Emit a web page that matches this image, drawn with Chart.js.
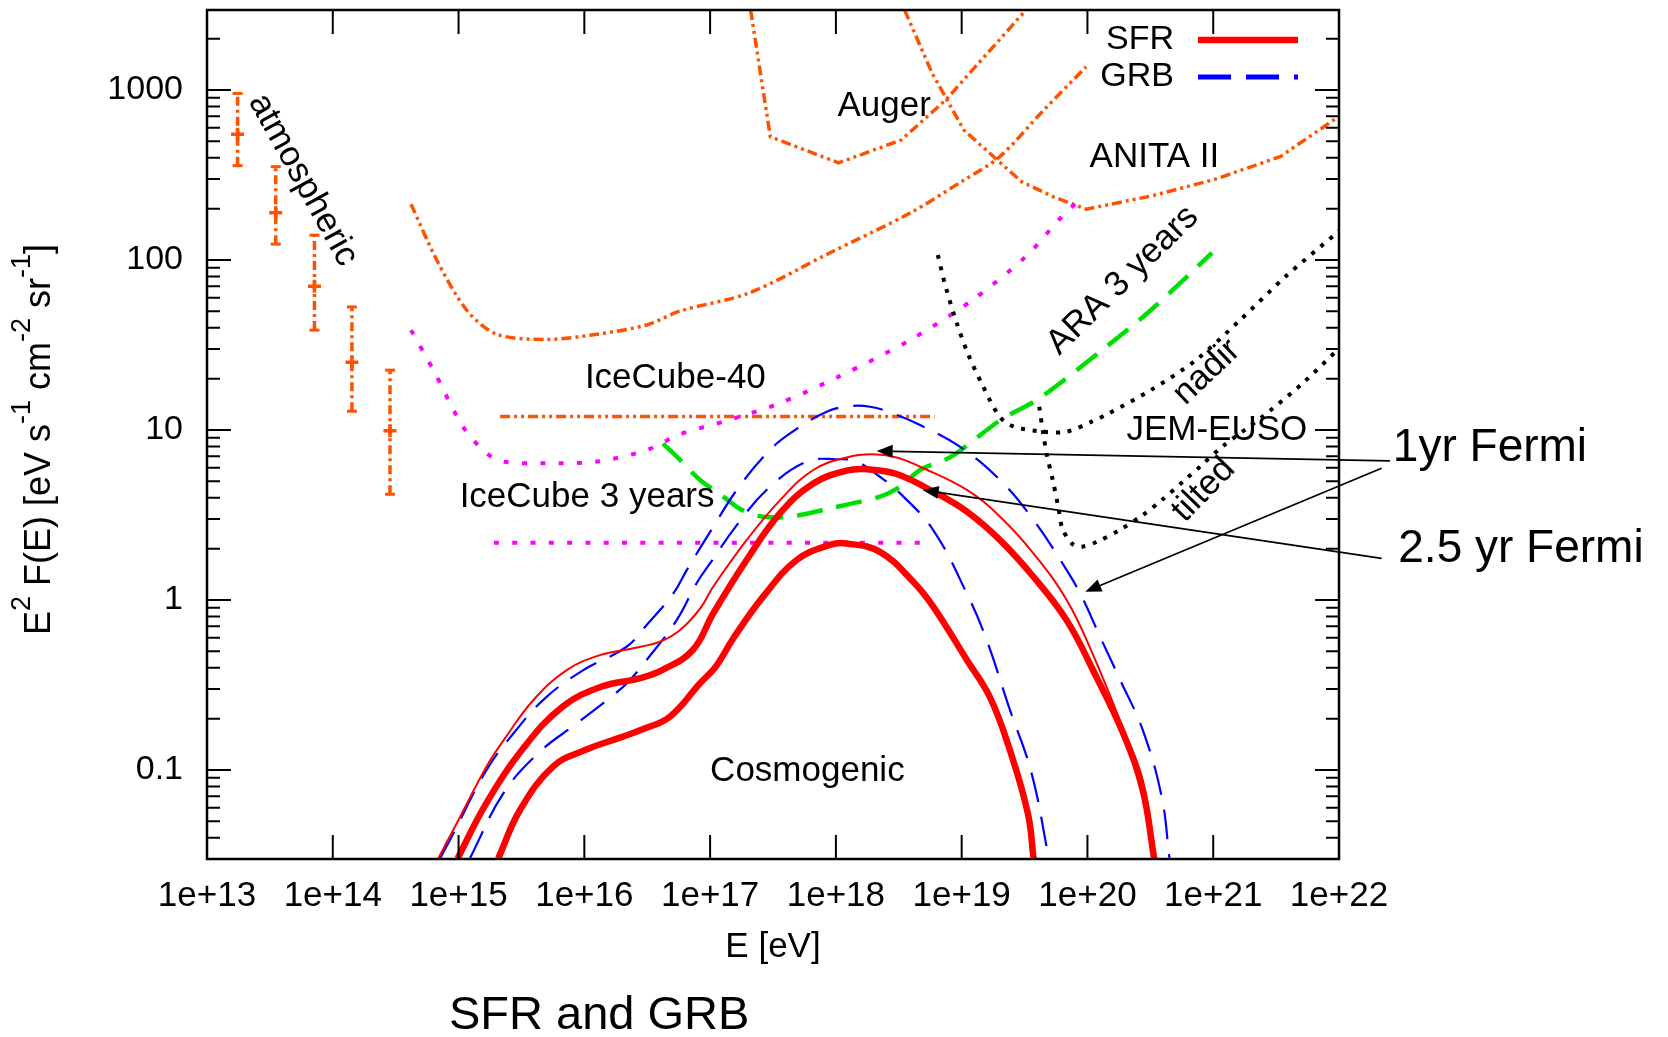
<!DOCTYPE html>
<html>
<head>
<meta charset="utf-8">
<title>SFR and GRB</title>
<script src="https://cdn.jsdelivr.net/npm/chart.js@4.4.1/dist/chart.umd.min.js"></script>
<style>
  body { margin: 0; background: #fff; }
  canvas { display: block; }
</style>
</head>
<body>
<canvas id="myChart" width="1668" height="1037"></canvas>
<script>
// E in eV, flux as E^2 F(E) in eV s^-1 cm^-2 sr^-1

// cosmogenic fluxes, SFR evolution (thin = 1yr Fermi, mid = 2.5 yr Fermi, low = lower bound)
const sfrThinE = [6.9e14, 1.03e15, 1.67e15, 2.36e15, 3.94e15, 7.24e15, 1.33e16, 2.45e16, 4.0e16, 5.77e16, 8.32e16, 1.06e17, 1.95e17, 3.6e17, 6.61e17, 1.22e18, 1.93e18, 3.04e18, 4.67e18, 1.1e19, 2.02e19, 3.72e19, 6.84e19, 1.12e20, 1.94e20, 2.75e20, 3.5e20];
const sfrThinF = [0.0302, 0.0531, 0.105, 0.155, 0.258, 0.387, 0.474, 0.52, 0.569, 0.667, 0.891, 1.2, 2.25, 3.87, 5.82, 6.9, 7.19, 6.9, 6.08, 4.44, 3.09, 1.88, 1.0, 0.468, 0.172, 0.0873, 0.0302];

const sfrMidE = [9.82e14, 1.66e15, 3.34e15, 6.73e15, 1.36e16, 2.73e16, 4.16e16, 7.29e16, 1.06e17, 1.95e17, 3.6e17, 6.61e17, 1.22e18, 1.76e18, 3.04e18, 5.94e18, 1.1e19, 2.02e19, 3.72e19, 6.84e19, 1.12e20, 1.94e20, 2.75e20, 3.39e20];
const sfrMidF = [0.0302, 0.0637, 0.137, 0.236, 0.309, 0.346, 0.387, 0.508, 0.836, 1.72, 3.24, 4.85, 5.77, 5.88, 5.51, 4.34, 3.31, 2.25, 1.37, 0.759, 0.38, 0.162, 0.0762, 0.0302];

const sfrLowE = [2.07e15, 3.08e15, 5.66e15, 1.04e16, 1.92e16, 2.94e16, 4.79e16, 8.32e16, 1.11e17, 1.53e17, 2.65e17, 4.88e17, 8.97e17, 1.22e18, 2.24e18, 4.12e18, 5.94e18, 1.1e19, 1.67e19, 2.37e19, 3.36e19, 3.73e19];
const sfrLowF = [0.0302, 0.0582, 0.105, 0.132, 0.155, 0.174, 0.206, 0.324, 0.406, 0.596, 1.05, 1.72, 2.11, 2.15, 1.92, 1.28, 0.914, 0.444, 0.27, 0.137, 0.0556, 0.0302];

// GRB evolution
const grbHighE = [7.13e14, 9.1e14, 1.67e15, 2.73e15, 4.86e15, 9.82e15, 2.17e16, 3.13e16, 5.09e16, 6.52e16, 1.06e17, 1.63e17, 2.82e17, 4.32e17, 8.45e17, 1.29e18, 1.87e18, 2.86e18, 4.67e18, 9.68e18, 2.02e19, 3.72e19, 6.84e19, 8.99e19, 1.26e20, 1.82e20, 2.75e20, 3.89e20, 4.49e20];
const grbHighF = [0.0302, 0.0424, 0.1, 0.164, 0.264, 0.387, 0.531, 0.713, 1.09, 1.5, 2.7, 4.44, 7.3, 9.55, 12.8, 13.8, 13.7, 12.5, 10.7, 7.98, 5.08, 2.96, 1.5, 1.05, 0.608, 0.339, 0.172, 0.0697, 0.0302];

const grbLowE = [1.23e15, 2.27e15, 4.32e15, 8.71e15, 1.7e16, 2.24e16, 3.13e16, 5.42e16, 7.83e16, 9.98e16, 1.63e17, 2.9e17, 5.86e17, 1.01e18, 1.46e18, 2.24e18, 3.24e18, 5.94e18, 1.1e19, 1.58e19, 2.37e19, 3.6e19, 4.93e19];
const grbLowF = [0.0302, 0.0729, 0.126, 0.188, 0.276, 0.331, 0.444, 0.762, 1.26, 1.64, 2.76, 4.54, 6.52, 6.73, 6.52, 5.31, 4.24, 2.58, 1.09, 0.582, 0.236, 0.0955, 0.0302];

// detector sensitivities
const araE = [4.22e16, 5.77e16, 8.32e16, 1.27e17, 1.78e17, 2.65e17, 4.32e17, 8.97e17, 2.24e18, 3.24e18, 4.67e18, 8.26e18, 2.05e19, 4.17e19, 1.41e20, 3.2e20, 9.77e20];
const araF = [8.32, 6.67, 5.08, 4.06, 3.39, 3.09, 3.09, 3.46, 4.06, 4.65, 5.82, 6.97, 11.5, 15.4, 30.9, 50.8, 110];

const ic3yE = [4.19e14, 6.31e14, 1.09e15, 1.67e15, 2.27e15, 5.01e15, 1.26e16, 3.13e16, 5.77e16, 1.44e17, 3.6e17, 1.05e18, 3.88e18, 1.22e19, 3.24e19, 6.25e19, 8.32e19];
const ic3yF = [38.7, 22.5, 10.4, 7.3, 6.52, 6.37, 6.52, 7.62, 9.44, 11.5, 14.4, 20.6, 33.8, 58.2, 105, 180, 220];
const ic3yFlatE = [1.91e15, 5.82e18];
const ic3yFlatF = [2.17, 2.17];

const ic40E = [2.14e15, 6.1e18];
const ic40F = [12.0, 12.0];

const upperE = [4.19e14, 6.71e14, 1.16e15, 2.01e15, 5.01e15, 1.26e16, 3.13e16, 5.77e16, 2.04e17, 8.91e17, 3.89e18, 1.04e19, 2.0e19, 4.47e19, 9.77e19];
const upperF = [213, 100, 50.8, 36.6, 34.1, 36.6, 41.5, 50.1, 64.0, 110, 189, 295, 404, 759, 1371];

const augerE = [2.1e17, 3.01e17, 1.05e18, 3.3e18, 7.46e18, 3.24e19];
const augerF = [2951, 531, 373, 508, 873, 2951];

const anitaE = [3.52e18, 5.83e18, 1.04e19, 2.99e19, 5.31e19, 9.77e19, 3.2e20, 1.0e21, 3.42e21, 1.0e22];
const anitaF = [2951, 1253, 582, 289, 236, 199, 238, 296, 406, 700];

const jemNadirE = [6.46e18, 7.46e18, 9.16e18, 1.12e19, 1.44e19, 2.0e19, 2.57e19, 4.46e19, 6.84e19, 1.08e20, 1.41e20, 3.2e20, 7.24e20, 1.64e21, 3.72e21, 1.0e22];
const jemNadirF = [107, 69.7, 42.4, 28.2, 18.8, 12.0, 10.5, 9.77, 9.77, 11.2, 12.3, 17.2, 25.7, 44.4, 79.4, 148];

const jemTiltE = [4.14e19, 4.45e19, 4.76e19, 5.3e19, 5.89e19, 6.31e19, 7.52e19, 8.95e19, 1.19e20, 1.8e20, 2.75e20, 3.9e20, 5.94e20, 7.83e20, 1.18e21, 2.47e21, 5.13e21, 1.0e22];
const jemTiltF = [13.7, 9.55, 7.13, 5.08, 3.46, 2.64, 2.15, 2.06, 2.2, 2.58, 3.16, 3.87, 5.08, 6.08, 7.98, 12.0, 18.8, 30.2];

// atmospheric neutrino points with error bars
const atmE = [1.75e13, 3.52e13, 7.15e13, 1.42e14, 2.85e14];
const atmF = [550, 190, 70, 25, 9.9];
const atmLo = [359, 124, 38.7, 12.9, 4.19];
const atmHi = [955, 354, 140, 53, 22.5];

// axis ticks
const energyTicks = [1e13, 1e14, 1e15, 1e16, 1e17, 1e18, 1e19, 1e20, 1e21, 1e22];
const fluxTicks = [0.1, 1, 10, 100, 1000];

const FONT = '"Liberation Sans", Arial, Helvetica, sans-serif';
const RED = '#ff0000';
const BLUE = '#0000ff';
const ORANGE = '#ff5200';
const MAGENTA = '#ff00ff';
const GREEN = '#00e000';
const DASH_DOT_DOT = [10, 4, 3, 4, 3, 4];

// labels sit at (E, flux) positions so they follow the axes
const plotLabels = [
  { text: 'atmospheric', e: 5.8e13, f: 296, rot: 61, align: 'center' },
  { text: 'IceCube-40', e: 1.01e16, f: 20, rot: 0, align: 'left' },
  { text: 'IceCube 3 years', e: 1.02e15, f: 4.0, rot: 0, align: 'left' },
  { text: 'Auger', e: 1.03e18, f: 797, rot: 0, align: 'left' },
  { text: 'ANITA II', e: 1.04e20, f: 401, rot: 0, align: 'left' },
  { text: 'ARA 3 years', e: 1.91e20, f: 76, rot: -44.4, align: 'center' },
  { text: 'nadir', e: 8.9e20, f: 21.9, rot: -43.4, align: 'center' },
  { text: 'JEM-EUSO', e: 2.04e20, f: 10, rot: 0, align: 'left' },
  { text: 'tilted', e: 8.4e20, f: 4.44, rot: -45.6, align: 'center' },
  { text: 'Cosmogenic', e: 1.0e17, f: 0.098, rot: 0, align: 'left' },
  { text: '1yr Fermi', e: 2.68e22, f: 7.8, rot: 0, align: 'left', size: 46 },
  { text: '2.5 yr Fermi', e: 2.96e22, f: 2.0, rot: 0, align: 'left', size: 46 }
];

const fermiArrows = [
  { from: [2.54e22, 6.58], to: [2.11e18, 7.52] },
  { from: [2.18e22, 5.96], to: [9.62e19, 1.12] },
  { from: [2.18e22, 1.76], to: [4.89e18, 4.44] }
];

const yTitle = [['E', 0], ['2', 1], [' F(E) [eV s', 0], ['-1', 1], [' cm', 0], ['-2', 1], [' sr', 0], ['-1', 1], [']', 0]];

const pts = (xs, ys) => xs.map((e, i) => ({ x: e, y: ys[i] }));

// each error bar is its own segment, split by a null point
const atmBars = [];
atmE.forEach((e, i) => {
  atmBars.push({ x: e, y: atmLo[i] }, { x: e, y: atmHi[i] }, { x: e, y: null });
});

const line = (data, color, width, dash, tension) => ({
  data: data,
  borderColor: color,
  borderWidth: width,
  borderDash: dash,
  pointRadius: 0,
  fill: false,
  clip: 0,
  tension: tension
});

const notes = {
  id: 'notes',
  afterDatasetsDraw(chart) {
    const { ctx, chartArea: a, scales: { x, y } } = chart;
    const px = v => x.getPixelForValue(v);
    const py = v => y.getPixelForValue(v);
    ctx.save();

    // frame
    ctx.strokeStyle = '#000';
    ctx.lineWidth = 2.5;
    ctx.strokeRect(a.left, a.top, a.right - a.left, a.bottom - a.top);

    // tick marks point inward on all four sides
    ctx.lineWidth = 2;
    ctx.beginPath();
    energyTicks.forEach(v => {
      const xp = px(v);
      ctx.moveTo(xp, a.bottom); ctx.lineTo(xp, a.bottom - 24);
      ctx.moveTo(xp, a.top); ctx.lineTo(xp, a.top + 24);
    });
    for (let d = -2; d <= 3; d++) {
      for (let m = 1; m <= 9; m++) {
        const v = m * Math.pow(10, d);
        if (v < y.min || v > y.max) continue;
        const yp = py(v);
        const len = m === 1 ? 24 : 13;
        ctx.moveTo(a.left, yp); ctx.lineTo(a.left + len, yp);
        ctx.moveTo(a.right, yp); ctx.lineTo(a.right - len, yp);
      }
    }
    ctx.stroke();

    // text labels
    ctx.fillStyle = '#000';
    plotLabels.forEach(l => {
      ctx.save();
      ctx.font = (l.size || 35) + 'px ' + FONT;
      ctx.translate(px(l.e), py(l.f));
      ctx.rotate(l.rot * Math.PI / 180);
      ctx.textAlign = l.align;
      ctx.textBaseline = 'middle';
      ctx.fillText(l.text, 0, 0);
      ctx.restore();
    });

    // arrows to the Fermi curves
    ctx.lineWidth = 1.8;
    fermiArrows.forEach(ar => {
      const x0 = px(ar.from[0]), y0 = py(ar.from[1]);
      const x1 = px(ar.to[0]), y1 = py(ar.to[1]);
      const ang = Math.atan2(y1 - y0, x1 - x0);
      const hl = 16, hw = 6.5;
      const bx = x1 - hl * Math.cos(ang), by = y1 - hl * Math.sin(ang);
      ctx.beginPath(); ctx.moveTo(x0, y0); ctx.lineTo(bx, by); ctx.stroke();
      ctx.beginPath();
      ctx.moveTo(x1, y1);
      ctx.lineTo(bx + hw * Math.sin(ang), by - hw * Math.cos(ang));
      ctx.lineTo(bx - hw * Math.sin(ang), by + hw * Math.cos(ang));
      ctx.closePath();
      ctx.fill();
    });

    // key, gnuplot style: text then sample line
    ctx.font = '34px ' + FONT;
    ctx.textAlign = 'right';
    ctx.textBaseline = 'middle';
    const kx0 = a.right - 141, kx1 = a.right - 41;
    ctx.fillText('SFR', a.right - 165, a.top + 30);
    ctx.fillText('GRB', a.right - 165, a.top + 67);
    ctx.lineWidth = 6.5;
    ctx.strokeStyle = RED;
    ctx.beginPath(); ctx.moveTo(kx0, a.top + 30); ctx.lineTo(kx1, a.top + 30); ctx.stroke();
    ctx.lineWidth = 5;
    ctx.strokeStyle = BLUE;
    ctx.setLineDash([33, 15]);
    ctx.beginPath(); ctx.moveTo(kx0, a.top + 67); ctx.lineTo(kx1, a.top + 67); ctx.stroke();
    ctx.setLineDash([]);

    // y axis title with superscripts
    ctx.save();
    ctx.translate(40, (a.top + a.bottom) / 2 + 5);
    ctx.rotate(-Math.PI / 2);
    const mainF = '36px ' + FONT, supF = '27px ' + FONT;
    let w = 0;
    yTitle.forEach(([t, s]) => { ctx.font = s ? supF : mainF; w += ctx.measureText(t).width; });
    let cx = -w / 2;
    ctx.textAlign = 'left';
    yTitle.forEach(([t, s]) => {
      ctx.font = s ? supF : mainF;
      ctx.fillText(t, cx, s ? -17 : 0);
      cx += ctx.measureText(t).width;
    });
    ctx.restore();

    // caption under the plot
    ctx.font = '47px ' + FONT;
    ctx.textAlign = 'left';
    ctx.fillText('SFR and GRB', 449, 1016);

    ctx.restore();
  }
};

new Chart(document.getElementById('myChart'), {
  type: 'line',
  data: {
    datasets: [
      line(pts(sfrMidE, sfrMidF), RED, 6.5, [], 0.4),
      line(pts(sfrLowE, sfrLowF), RED, 6.5, [], 0.4),
      line(pts(sfrThinE, sfrThinF), RED, 2, [], 0.4),
      line(pts(grbHighE, grbHighF), BLUE, 2.2, [30, 15], 0.4),
      line(pts(grbLowE, grbLowF), BLUE, 2.2, [30, 15], 0.4),
      line(pts(araE, araF), GREEN, 4.5, [26, 14], 0.3),
      line(pts(jemNadirE, jemNadirF), '#000', 4, [4, 7.7], 0.3),
      line(pts(jemTiltE, jemTiltF), '#000', 4, [4, 7.7], 0.3),
      line(pts(ic3yE, ic3yF), MAGENTA, 4, [5, 13.3], 0.3),
      line(pts(ic3yFlatE, ic3yFlatF), MAGENTA, 4, [5, 13.3], 0),
      line(pts(ic40E, ic40F), ORANGE, 3.5, DASH_DOT_DOT, 0),
      line(pts(upperE, upperF), ORANGE, 3.5, DASH_DOT_DOT, 0.3),
      line(pts(augerE, augerF), ORANGE, 3.5, DASH_DOT_DOT, 0),
      line(pts(anitaE, anitaF), ORANGE, 3.5, DASH_DOT_DOT, 0),
      {
        data: atmBars,
        borderColor: ORANGE,
        borderWidth: 3.5,
        borderDash: [9, 4, 3, 4],
        pointStyle: 'line',
        pointRadius: 5,
        pointBorderColor: ORANGE,
        pointBorderWidth: 3,
        spanGaps: false,
        clip: 0
      },
      {
        data: pts(atmE, atmF),
        showLine: false,
        pointStyle: 'cross',
        pointRadius: 6.5,
        pointBorderColor: ORANGE,
        pointBorderWidth: 3.5,
        clip: 0
      }
    ]
  },
  options: {
    responsive: false,
    animation: false,
    events: [],
    layout: { padding: { top: 10, right: 329, bottom: 0, left: 0 } },
    plugins: { legend: { display: false }, tooltip: { enabled: false } },
    scales: {
      x: {
        type: 'logarithmic',
        min: 1e13,
        max: 1e22,
        bounds: 'data',
        grid: { display: false, drawTicks: false },
        border: { display: false },
        afterBuildTicks: s => { s.ticks = energyTicks.map(v => ({ value: v })); },
        afterFit: s => { s.height = 178; s.paddingLeft = 0; s.paddingRight = 0; },
        ticks: {
          autoSkip: false,
          maxRotation: 0,
          padding: 16,
          color: '#000',
          font: { family: FONT, size: 35 },
          callback: v => '1e+' + Math.round(Math.log10(v))
        },
        title: {
          display: true,
          text: 'E [eV]',
          color: '#000',
          font: { family: FONT, size: 35 },
          padding: { top: 0, bottom: 69 }
        }
      },
      y: {
        type: 'logarithmic',
        min: 0.02996,
        max: 2956,
        bounds: 'data',
        grid: { display: false, drawTicks: false },
        border: { display: false },
        afterBuildTicks: s => { s.ticks = fluxTicks.map(v => ({ value: v })); },
        afterFit: s => { s.width = 207; s.paddingTop = 0; s.paddingBottom = 0; },
        ticks: {
          padding: 24,
          color: '#000',
          font: { family: FONT, size: 34 },
          callback: v => String(v)
        }
      }
    }
  },
  plugins: [notes]
});
</script>
</body>
</html>
